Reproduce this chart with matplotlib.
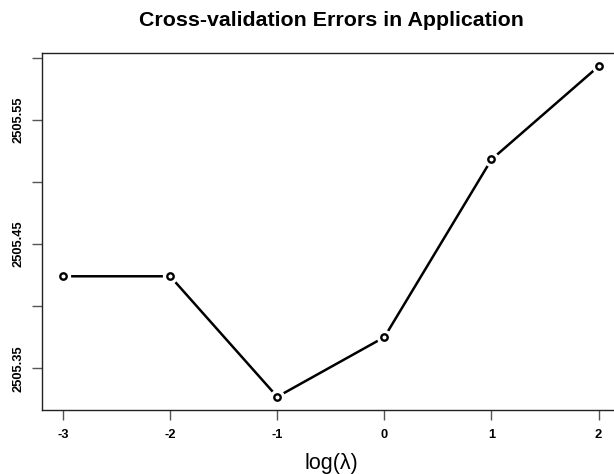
import matplotlib
matplotlib.use('Agg')
import matplotlib.pyplot as plt
import numpy as np

# --- dados ---
log_lambda = [-3, -2, -1, 0, 1, 2]
cv_error = [2505.424, 2505.424, 2505.327, 2505.375, 2505.518, 2505.593]
y_ticks = [2505.35, 2505.40, 2505.45, 2505.50, 2505.55, 2505.60]
y_labels = ['2505.35', '', '2505.45', '', '2505.55', '']

plt.rcParams['font.family'] = ['Liberation Sans', 'DejaVu Sans']

fig = plt.figure(figsize=(6.14, 4.74), dpi=100)
ax = fig.add_axes([0.0678, 0.135, 0.942, 0.753])

# linha com falhas perto dos pontos (estilo type="b" do R)
ax.plot(log_lambda, cv_error, color='black', lw=1.8, zorder=1)
ax.plot(log_lambda, cv_error, 'o', ms=10, mfc='white', mec='white', zorder=2)
ax.plot(log_lambda, cv_error, 'o', ms=4.6, mfc='white', mec='black', mew=1.7, zorder=3)

xr = max(log_lambda) - min(log_lambda)
ax.set_xlim(min(log_lambda) - 0.04 * xr, max(log_lambda) + 0.04 * xr)
yr = max(cv_error) - min(cv_error)
ax.set_ylim(min(cv_error) - 0.04 * yr, max(cv_error) + 0.04 * yr)

ax.set_xticks(log_lambda)
ax.set_xticklabels([str(v) for v in log_lambda], fontsize=9.3, fontweight='bold')
ax.set_yticks(y_ticks)
ax.set_yticklabels(y_labels, fontsize=9.3, fontweight='bold', rotation=90, va='center')

ax.tick_params(axis='both', direction='out', length=7, width=1, color='#555555')
ax.tick_params(axis='x', pad=7)
ax.tick_params(axis='y', pad=5)
for s in ax.spines.values():
    s.set_linewidth(1)
    s.set_color('#222222')

# rótulos posicionados na figura
fig.text(0.539, 1 - 463 / 474, 'log(\u03bb)', fontsize=15.5, ha='center', va='center')
fig.text(0.539, 1 - 21 / 474, 'Cross-validation Errors in Application',
         fontsize=15.4, fontweight='bold', ha='center', va='center')

fig.savefig('out.png', dpi=100)
